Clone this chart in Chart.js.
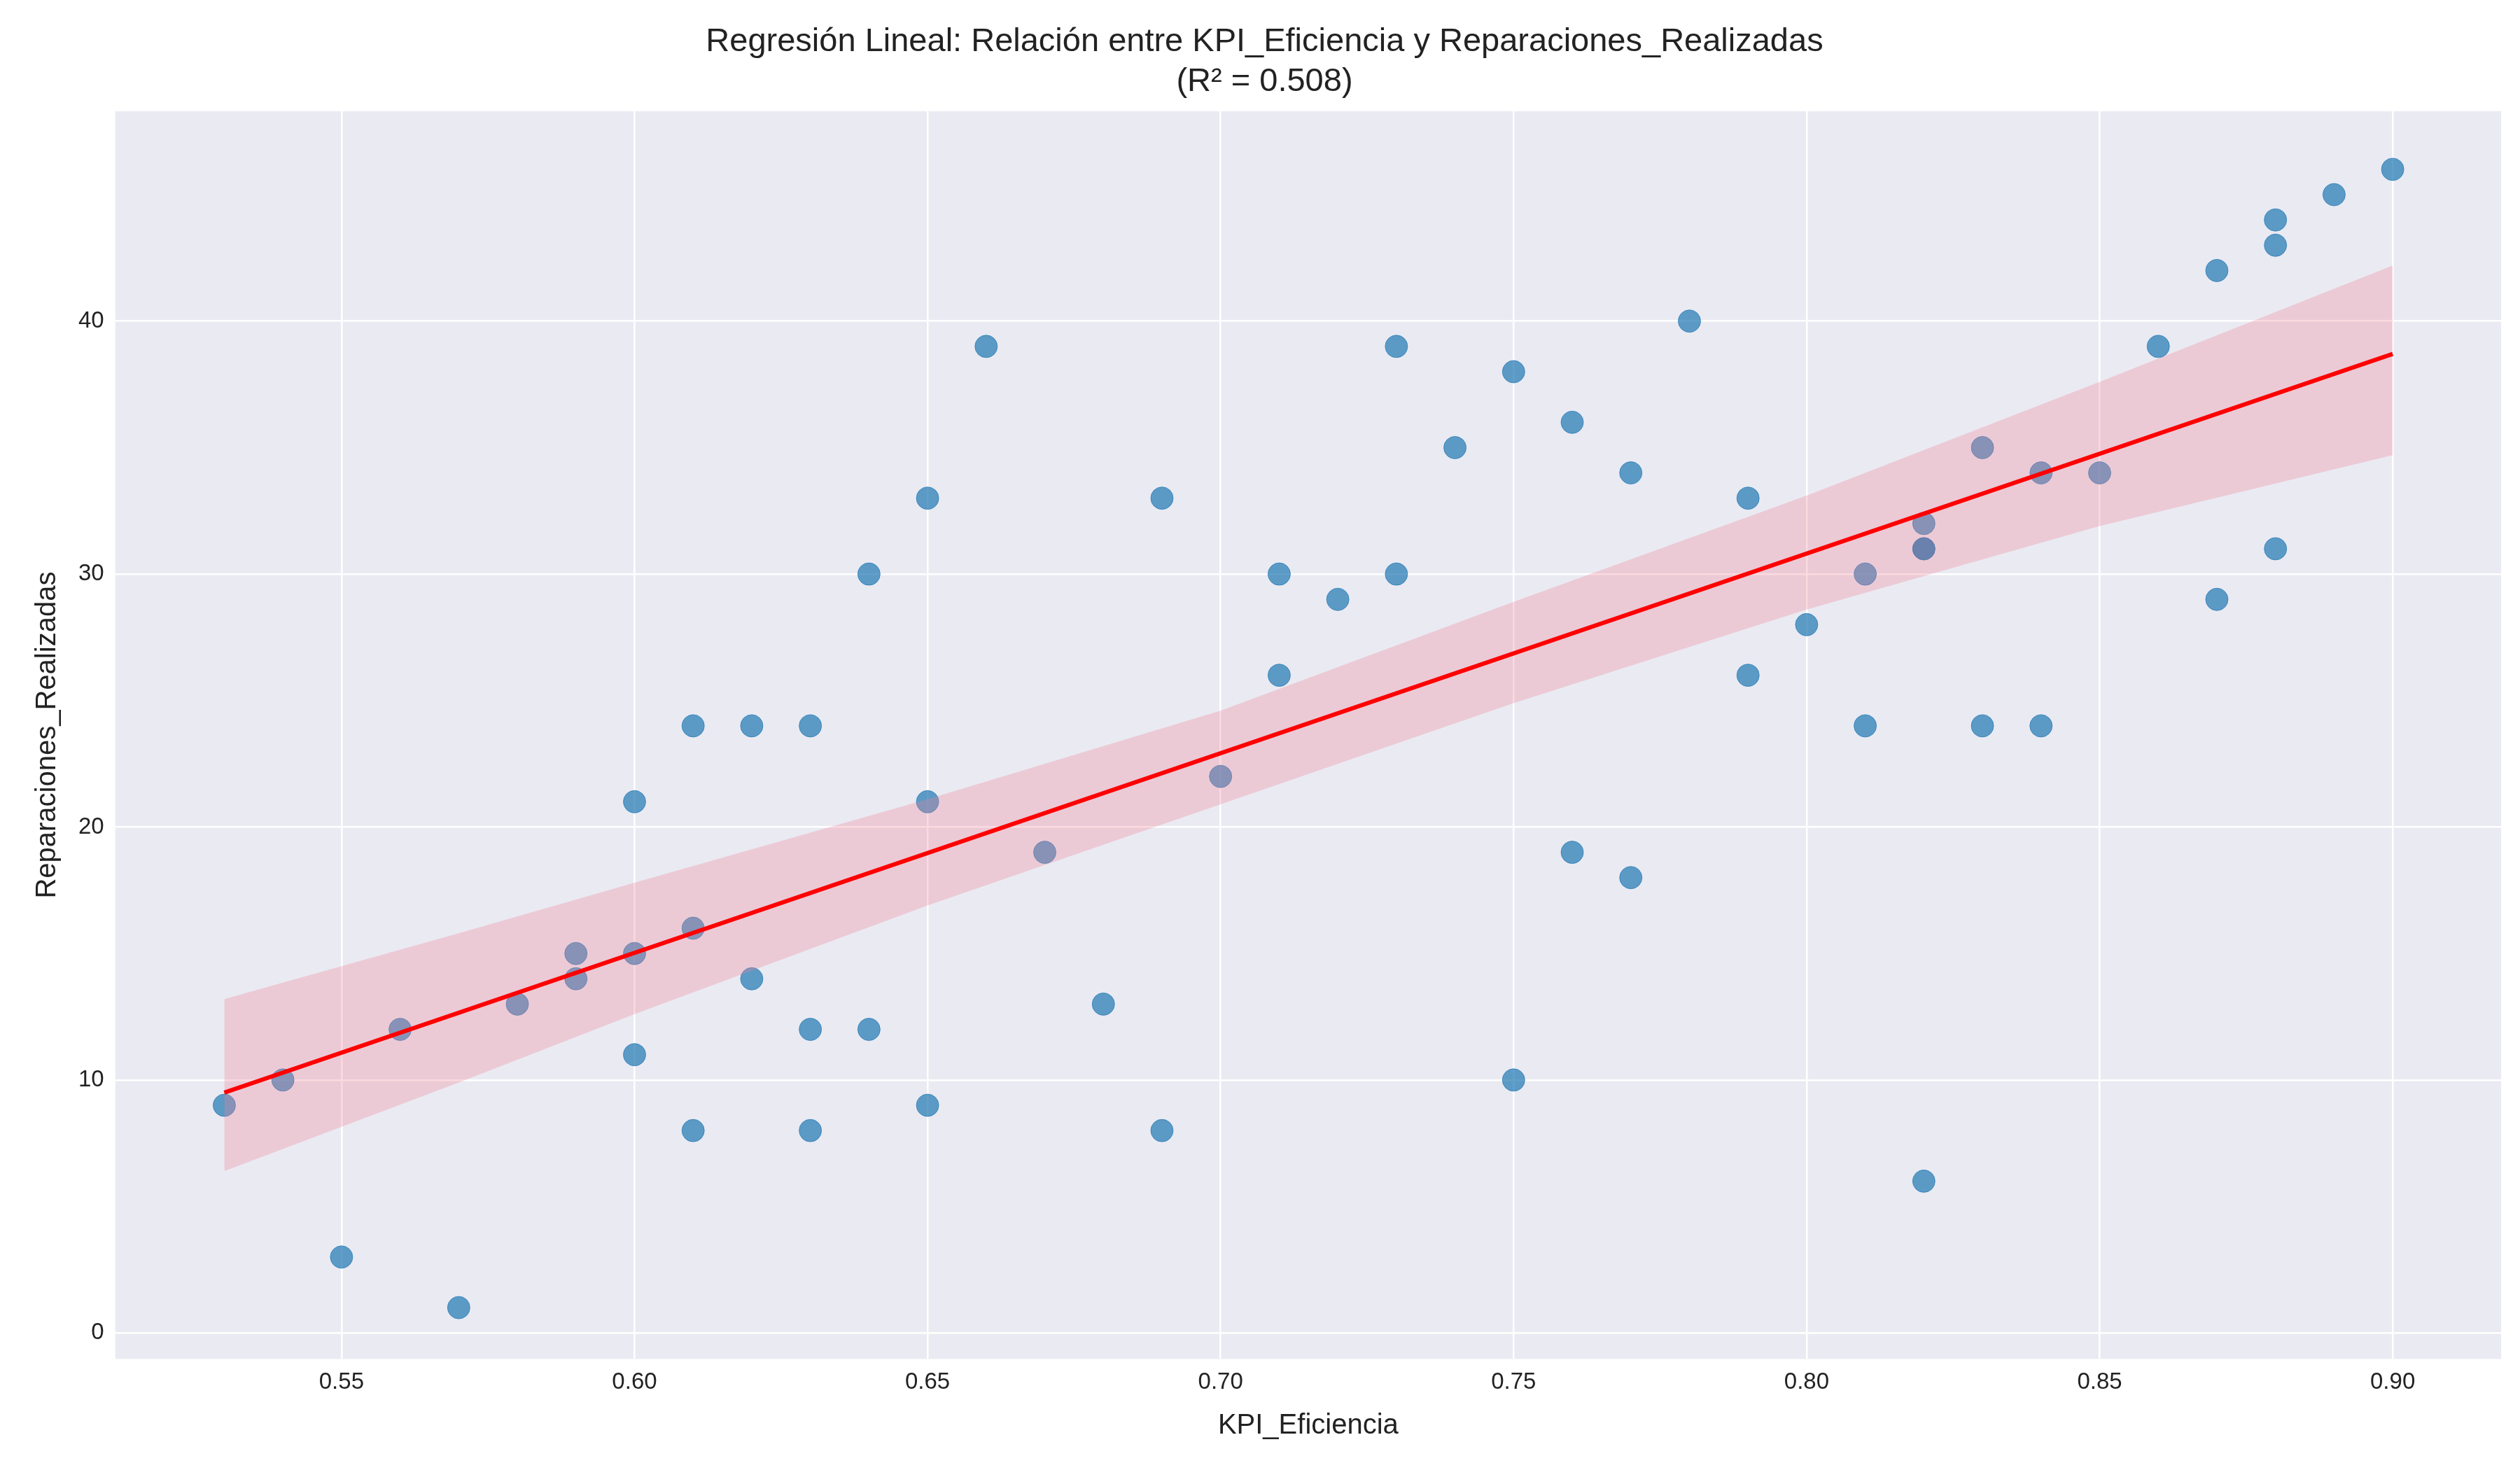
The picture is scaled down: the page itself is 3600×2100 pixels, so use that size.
<!DOCTYPE html>
<html>
<head>
<meta charset="utf-8">
<script src="https://cdn.jsdelivr.net/npm/chart.js@4.4.1/dist/chart.umd.min.js"></script>
<style>
  html, body { margin: 0; padding: 0; background: #ffffff; }
  #wrap { width: 3600px; height: 2100px; }
</style>
</head>
<body>
<div id="wrap"><canvas id="chart" width="3600" height="2100"></canvas></div>
<script>
// Datos de dispersión
const kpiEficiencia = [0.53,0.54,0.55,0.56,0.57,0.58,0.59,0.59,0.60,0.60,0.60,0.61,0.61,0.61,0.62,0.62,0.63,0.63,0.63,0.64,0.64,0.65,0.65,0.65,0.66,0.67,0.68,0.69,0.69,0.70,0.71,0.71,0.72,0.73,0.73,0.74,0.75,0.75,0.76,0.76,0.77,0.77,0.78,0.79,0.79,0.80,0.81,0.81,0.82,0.82,0.82,0.82,0.83,0.83,0.84,0.84,0.85,0.86,0.87,0.87,0.88,0.88,0.88,0.89,0.90];
const reparaciones = [9,10,3,12,1,13,15,14,21,15,11,24,16,8,24,14,24,12,8,30,12,33,21,9,39,19,13,33,8,22,30,26,29,39,30,35,38,10,36,19,34,18,40,33,26,28,30,24,32,31,31,6,35,24,34,24,34,39,42,29,44,43,31,45,46];

// Recta de regresión y banda de confianza
const lineaX = [0.53, 0.90];
const lineaY = [9.5, 38.7];
const bandaX = [0.53, 0.57, 0.60, 0.65, 0.70, 0.75, 0.80, 0.85, 0.90];
const bandaInf = [6.4, 9.9, 12.6, 16.9, 20.9, 24.9, 28.6, 31.9, 34.7];
const bandaSup = [13.2, 15.8, 17.8, 21.1, 24.6, 28.9, 33.1, 37.6, 42.2];

// Etiquetas de los ejes
const xTicks = [0.55, 0.60, 0.65, 0.70, 0.75, 0.80, 0.85, 0.90];
const yTicks = [0, 10, 20, 30, 40];

const fuente = "'Liberation Sans', Arial, sans-serif";

const fondoPlot = {
    id: 'fondoPlot',
    beforeDraw(chart) {
        const { ctx, chartArea: a } = chart;
        ctx.save();
        ctx.fillStyle = '#eaeaf2';
        ctx.fillRect(a.left, a.top, a.right - a.left, a.bottom - a.top);
        ctx.restore();
    }
};

new Chart(document.getElementById('chart'), {
    type: 'scatter',
    data: {
        datasets: [
            {
                label: 'sup',
                data: bandaX.map((x, i) => ({ x, y: bandaSup[i] })),
                showLine: true, pointRadius: 0, borderWidth: 0,
                borderColor: 'rgba(0,0,0,0)',
                backgroundColor: 'rgba(240,130,150,0.3)',
                fill: '+1', order: 2
            },
            {
                label: 'inf',
                data: bandaX.map((x, i) => ({ x, y: bandaInf[i] })),
                showLine: true, pointRadius: 0, borderWidth: 0,
                borderColor: 'rgba(0,0,0,0)', fill: false, order: 2
            },
            {
                label: 'Datos',
                data: kpiEficiencia.map((x, i) => ({ x, y: reparaciones[i] })),
                pointRadius: 16, pointHoverRadius: 16,
                backgroundColor: 'rgba(31,119,180,0.7)',
                borderColor: 'rgba(31,119,180,0.7)', borderWidth: 1, order: 3
            },
            {
                label: 'Regresión',
                data: lineaX.map((x, i) => ({ x, y: lineaY[i] })),
                showLine: true, pointRadius: 0, borderWidth: 6,
                borderColor: '#ff0000', order: 1
            }
        ]
    },
    options: {
        responsive: false,
        devicePixelRatio: 1,
        animation: false,
        layout: { padding: { left: 40, right: 27, top: 10, bottom: 35 } },
        plugins: {
            legend: { display: false },
            tooltip: { enabled: false },
            title: {
                display: true,
                text: ['Regresión Lineal: Relación entre KPI_Eficiencia y Reparaciones_Realizadas', '(R² = 0.508)'],
                color: '#222', font: { family: fuente, size: 47, weight: 'normal' },
                padding: { top: 22, bottom: 14 }, lineHeight: 1.12
            }
        },
        scales: {
            x: {
                type: 'linear', min: 0.5114, max: 0.9185,
                afterBuildTicks: s => { s.ticks = xTicks.map(v => ({ value: v })); },
                ticks: { color: '#222', font: { family: fuente, size: 33 }, padding: 14,
                         callback: v => v.toFixed(2) },
                grid: { color: '#ffffff', lineWidth: 2.5, drawTicks: false },
                border: { display: false },
                title: { display: true, text: 'KPI_Eficiencia', color: '#222',
                         font: { family: fuente, size: 40 } }
            },
            y: {
                type: 'linear', min: -1.03, max: 48.3,
                afterBuildTicks: s => { s.ticks = yTicks.map(v => ({ value: v })); },
                ticks: { color: '#222', font: { family: fuente, size: 33 }, padding: 16 },
                grid: { color: '#ffffff', lineWidth: 2.5, drawTicks: false },
                border: { display: false },
                title: { display: true, text: 'Reparaciones_Realizadas', color: '#222',
                         font: { family: fuente, size: 40 } }
            }
        }
    },
    plugins: [fondoPlot]
});
</script>
</body>
</html>
